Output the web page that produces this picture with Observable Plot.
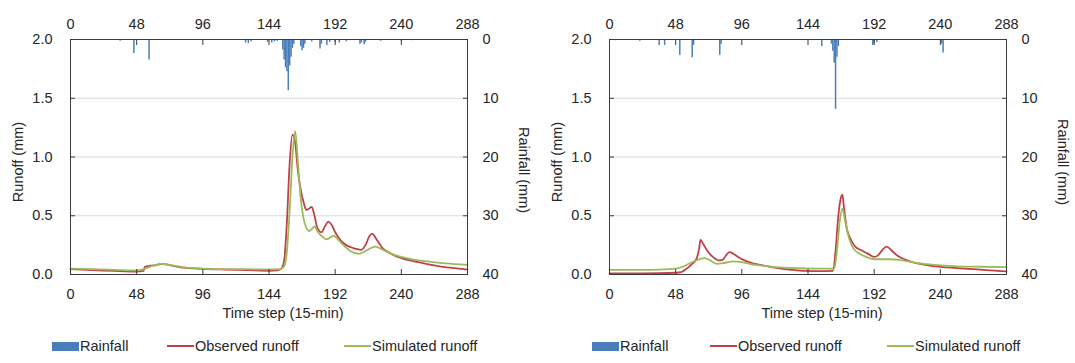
<!DOCTYPE html>
<html>
<head>
<meta charset="utf-8">
<script src="https://cdn.jsdelivr.net/npm/d3@7"></script>
<script src="https://cdn.jsdelivr.net/npm/@observablehq/plot@0.6"></script>
<style>
  html, body { margin: 0; padding: 0; background: #fff; }
  body { width: 1075px; height: 363px; overflow: hidden; font-family: "Liberation Sans", Arial, sans-serif; color: #262626; }
  #row { display: flex; }
  .panel { position: relative; height: 363px; }
  .legend { position: absolute; top: 336px; left: 0; height: 20px; font-size: 14.5px; }
  .legend .item { position: absolute; top: 0; display: flex; align-items: center; height: 20px; white-space: nowrap; }
  .legend .sw { display: inline-block; flex: none; }
</style>
</head>
<body>
<div id="row"></div>
<script>
// ---------- data ----------
const xTicks = [0, 48, 96, 144, 192, 240, 288];
const runoffTicks = [0, 0.5, 1.0, 1.5, 2.0];
const rainTicks = [0, 10, 20, 30, 40];
const seriesNames = ["Rainfall", "Observed runoff", "Simulated runoff"];

// Panel 1 (left): [time step, value]
const rain1 = [[36,0.3],[46,2.4],[57,3.5],[127,0.6],[129,0.7],[131,0.4],[143,0.5],[146,0.6],[148,0.4],[150,0.3],
  [154,1.8],[155,3.5],[156,4.8],[157,5.5],[158,8.7],[159,4.5],[160,3.0],[161,1.5],[162,0.8],[167,1.2],[168,1.9],
  [169,1.5],[170,0.8],[175,0.4],[181,1.6],[182,0.8],[186,1.0],[188,0.5],[192,0.5],[195,0.6],[200,0.4],[210,0.8],
  [211,0.6],[213,0.9],[214,0.5],[225,0.3],[240,0.3],[248,0.2]];
const observed1 = [[0,0.045],[16,0.038],[32,0.03],[48,0.025],[53,0.03],[54,0.065],[58,0.075],[62,0.08],[66,0.09],
  [72,0.08],[80,0.06],[96,0.048],[112,0.042],[128,0.038],[144,0.032],[150,0.035],[153,0.05],[155,0.12],[157,0.45],
  [159,0.95],[161,1.19],[163,1.12],[165,0.88],[167,0.72],[169,0.62],[171,0.55],[173,0.56],[175,0.575],[177,0.5],
  [179,0.4],[182,0.36],[185,0.42],[187,0.45],[189,0.43],[192,0.36],[196,0.29],[200,0.25],[204,0.23],[208,0.215],
  [211,0.21],[214,0.25],[217,0.33],[219,0.345],[222,0.3],[226,0.23],[232,0.18],[240,0.14],[248,0.115],[258,0.09],
  [270,0.065],[280,0.052],[288,0.042]];
const simulated1 = [[0,0.05],[16,0.045],[32,0.04],[48,0.035],[54,0.05],[60,0.075],[66,0.09],[72,0.082],[80,0.065],
  [96,0.05],[112,0.045],[128,0.045],[144,0.043],[152,0.045],[155,0.07],[157,0.2],[159,0.55],[161,1.0],[163,1.22],
  [165,0.95],[167,0.65],[169,0.48],[171,0.4],[173,0.37],[175,0.385],[177,0.41],[179,0.37],[182,0.33],[186,0.3],
  [189,0.32],[191,0.33],[194,0.3],[198,0.25],[203,0.2],[209,0.175],[214,0.2],[218,0.225],[221,0.238],[225,0.22],
  [232,0.18],[240,0.15],[250,0.125],[260,0.11],[272,0.095],[288,0.082]];

// Panel 2 (right)
const rain2 = [[4,0.2],[22,0.3],[36,1.0],[40,1.0],[51,2.7],[60,3.1],[61,1.0],[80,2.7],[81,0.8],[154,1.2],[161,0.8],
  [162,2.0],[163,4.0],[164,11.9],[165,3.0],[166,1.2],[191,1.0],[192,0.6],[194,0.5],[241,0.8],[242,2.3]];
const observed2 = [[0,0.01],[24,0.01],[48,0.015],[52,0.02],[56,0.05],[60,0.09],[63,0.13],[65,0.22],[66,0.295],
  [68,0.26],[71,0.2],[75,0.15],[79,0.12],[82,0.125],[85,0.17],[87,0.19],[90,0.175],[94,0.145],[98,0.12],[104,0.095],
  [112,0.075],[122,0.055],[132,0.04],[142,0.03],[152,0.028],[162,0.03],[164,0.2],[166,0.5],[168,0.66],[169,0.68],
  [170,0.58],[172,0.4],[175,0.3],[178,0.24],[182,0.21],[187,0.18],[192,0.15],[195,0.165],[198,0.21],[201,0.238],
  [205,0.2],[209,0.16],[215,0.125],[221,0.1],[230,0.08],[240,0.065],[252,0.055],[264,0.045],[276,0.035],[288,0.026]];
const simulated2 = [[0,0.04],[24,0.04],[36,0.042],[48,0.05],[54,0.07],[59,0.1],[64,0.125],[69,0.14],[73,0.12],
  [78,0.09],[84,0.1],[90,0.112],[96,0.105],[104,0.085],[112,0.075],[124,0.06],[136,0.053],[150,0.05],[163,0.05],
  [165,0.2],[167,0.45],[169,0.56],[171,0.45],[174,0.3],[177,0.22],[181,0.18],[186,0.15],[192,0.13],[198,0.13],
  [204,0.13],[210,0.125],[216,0.113],[222,0.1],[228,0.09],[240,0.078],[252,0.07],[270,0.066],[288,0.063]];

// ---------- styles ----------
const BLUE = "#4a7ebb", RED = "#c0404a", GREEN = "#9bbb59", FRAME = "#3a3a3a", GRID = "#d9d9d9";
const FONT = "'Liberation Sans', Arial, sans-serif";

function panel({width, mL, mR, rain, obs, sim, legendX, rainDy}) {
  const RMAX = 40, YMAX = 2;
  const toY = r => YMAX - r / (RMAX / YMAX);
  const fmtRain = v => String(Math.round((YMAX - v) * (RMAX / YMAX)));
  const chart = Plot.plot({
    width, height: 326,
    marginLeft: mL, marginRight: mR, marginTop: 39, marginBottom: 52,
    style: {fontFamily: FONT, fontSize: "14.5px", color: "#262626", background: "transparent"},
    x: {domain: [0, 288]},
    y: {domain: [0, 2]},
    marks: [
      Plot.ruleY([0.5, 1.0, 1.5], {stroke: GRID, strokeWidth: 1}),
      Plot.ruleX(rain, {x: d => d[0], y1: YMAX, y2: d => toY(d[1]), stroke: BLUE, strokeWidth: 1.5}),
      Plot.line(obs, {x: d => d[0], y: d => d[1], stroke: RED, strokeWidth: 1.8, curve: "monotone-x"}),
      Plot.line(sim, {x: d => d[0], y: d => d[1], stroke: GREEN, strokeWidth: 1.8, curve: "monotone-x"}),
      Plot.frame({stroke: FRAME, strokeWidth: 1}),
      Plot.axisX({anchor: "bottom", ticks: xTicks, tickSize: -5, tickPadding: 19, label: null, stroke: FRAME}),
      Plot.axisX({anchor: "top", ticks: xTicks, tickSize: -5, tickPadding: 16, label: null, stroke: FRAME}),
      Plot.axisY({anchor: "left", ticks: runoffTicks, tickFormat: d3.format(".1f"), tickSize: -5, tickPadding: 23, label: null, stroke: FRAME}),
      Plot.axisY({anchor: "right", ticks: rainTicks.map(toY), tickFormat: fmtRain, tickSize: -5, tickPadding: 20, label: null, stroke: FRAME}),
      Plot.text(["Runoff (mm)"], {frameAnchor: "left", textAnchor: "middle", dx: -52, dy: 5, rotate: -90, fontSize: 14.5}),
      Plot.text(["Rainfall (mm)"], {frameAnchor: "right", textAnchor: "middle", dx: 56, dy: rainDy, rotate: 90, fontSize: 14.5}),
      Plot.text(["Time step (15-min)"], {frameAnchor: "bottom", dy: 43, dx: 14, fontSize: 14.5})
    ]
  });
  const div = document.createElement("div");
  div.className = "panel";
  div.style.width = width + "px";
  div.appendChild(chart);
  // legend
  const leg = document.createElement("div");
  leg.className = "legend";
  const swatches = [
    {name: seriesNames[0], color: BLUE, kind: "rect"},
    {name: seriesNames[1], color: RED, kind: "line"},
    {name: seriesNames[2], color: GREEN, kind: "line"}
  ];
  swatches.forEach((s, i) => {
    const it = document.createElement("div");
    it.className = "item";
    it.style.left = legendX[i] + "px";
    const sw = document.createElement("span");
    sw.className = "sw";
    sw.style.width = "27px";
    sw.style.background = s.color;
    sw.style.height = s.kind === "rect" ? "9px" : "2px";
    sw.style.marginRight = "1px";
    it.appendChild(sw);
    const tx = document.createElement("span");
    tx.textContent = s.name;
    it.appendChild(tx);
    leg.appendChild(it);
  });
  div.appendChild(leg);
  return div;
}

const row = document.getElementById("row");
row.appendChild(panel({width: 537, mL: 70, mR: 70, rain: rain1, obs: observed1, sim: simulated1, legendX: [52, 167, 344], rainDy: 13}));
row.appendChild(panel({width: 538, mL: 72, mR: 69, rain: rain2, obs: observed2, sim: simulated2, legendX: [55, 173, 350], rainDy: 5}));
</script>
</body>
</html>
